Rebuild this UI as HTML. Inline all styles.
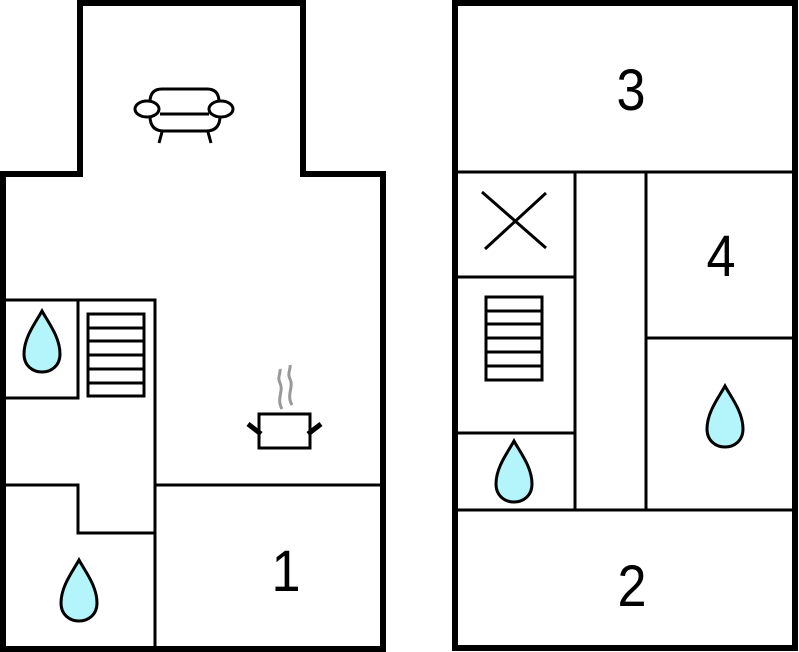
<!DOCTYPE html>
<html><head><style>body{margin:0;background:#fff}svg{display:block}</style></head><body>
<svg width="799" height="652" viewBox="0 0 799 652" xmlns="http://www.w3.org/2000/svg">
<defs>
<path id="drop" d="M0,-31 C-6,-20 -18,-5 -18,12 C-18,24 -9,30 0,30 C9,30 18,24 18,12 C18,-5 6,-20 0,-31 Z" fill="#b3f5fa" stroke="#000" stroke-width="3"/>
</defs>
<g fill="none" stroke="#000">
<path d="M3,649 L3,174 L80,174 L80,3 L303,3 L303,174 L383,174 L383,649 Z" stroke-width="6"/>
<g stroke-width="3">
<path d="M5,300 L155,300 L155,649"/>
<path d="M78,300 L78,398 L5,398"/>
<path d="M5,485 L78,485 L78,533 L155,533"/>
<path d="M155,485 L383,485"/>
<rect x="88" y="314" width="56" height="82"/>
<path d="M88,328 H144 M88,341 H144 M88,355 H144 M88,369 H144 M88,383 H144"/>
</g>
<g stroke-width="3">
<path d="M150,102 Q150,89 162,89 L207,89 Q219,89 219,102"/>
<path d="M150,116 Q150,131 164,131 L206,131 Q220,131 220,116"/>
<path d="M160,114 L209,114"/>
<ellipse cx="147" cy="109" rx="12" ry="8" fill="#fff"/>
<ellipse cx="221" cy="109" rx="12" ry="8" fill="#fff"/>
<path d="M162,132 L159,143 M208,132 L211,143"/>
</g>
<rect x="259" y="414" width="51" height="34" stroke-width="3"/>
<path d="M248,424 L261,434 M321,424 L308,434" stroke-width="5"/>
<path d="M282,409 C276,399 284,391 280,383 C277,377 281,373 280,369 M292,405 C286,395 294,387 290,379 C287,373 291,369 290,365" stroke="#999" stroke-width="3"/>
<rect x="455" y="3" width="340" height="645" stroke-width="6"/>
<g stroke-width="3">
<path d="M455,172 L795,172 M455,510 L795,510"/>
<path d="M575,172 L575,510 M646,172 L646,510"/>
<path d="M455,277 L575,277 M455,433 L575,433 M646,338 L795,338"/>
<path d="M482,192 L546,248 M485,249 L546,193"/>
<rect x="486" y="297" width="56" height="83"/>
<path d="M486,311 H542 M486,324 H542 M486,338 H542 M486,352 H542 M486,366 H542"/>
</g>
</g>
<use href="#drop" x="42" y="342"/>
<use href="#drop" x="79" y="591"/>
<use href="#drop" x="514" y="472"/>
<use href="#drop" x="725" y="417"/>
<g font-family="Liberation Sans, sans-serif" font-size="58" text-anchor="middle" fill="#000">
<text x="286" y="591" transform="translate(286,591) scale(0.9,1) translate(-286,-591)">1</text>
<text x="631" y="110" transform="translate(631,110) scale(0.9,1) translate(-631,-110)">3</text>
<text x="721" y="276" transform="translate(721,276) scale(0.9,1) translate(-721,-276)">4</text>
<text x="632" y="606" transform="translate(632,606) scale(0.9,1) translate(-632,-606)">2</text>
</g>
</svg>
</body></html>
